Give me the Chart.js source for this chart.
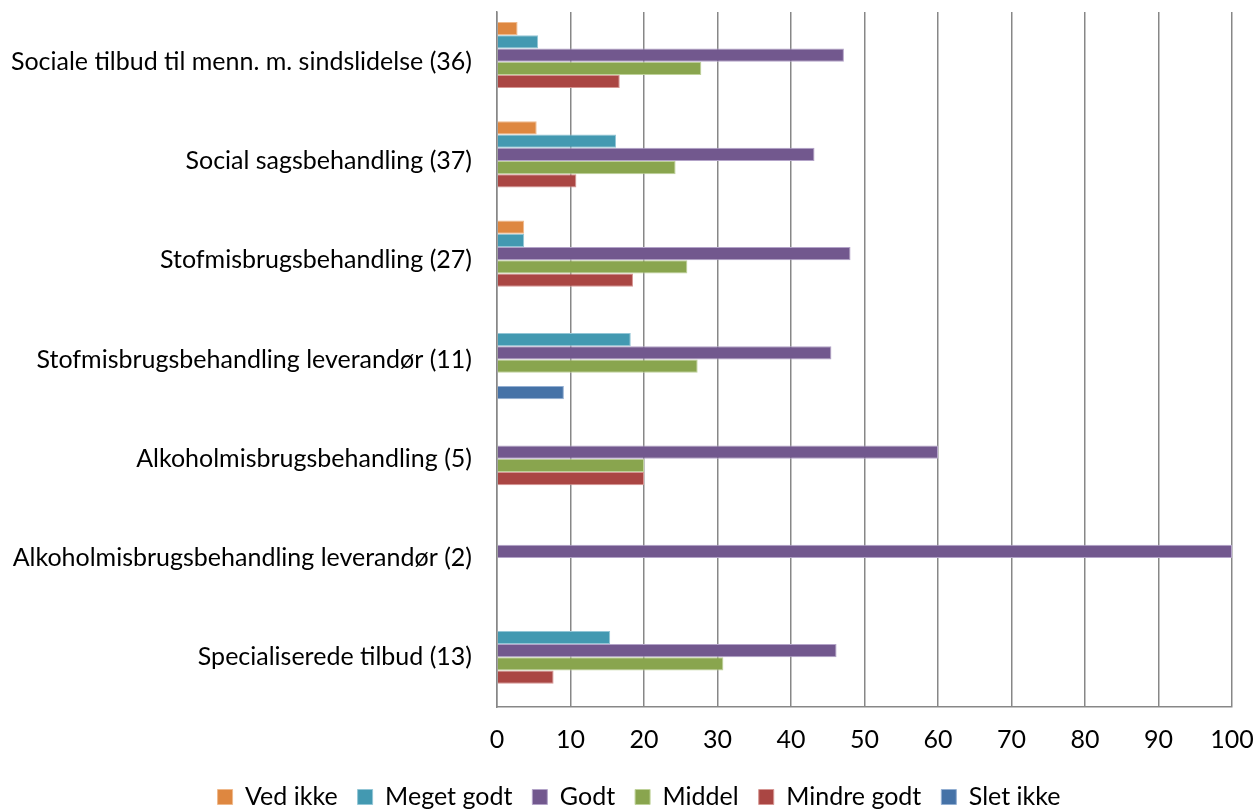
<!DOCTYPE html>
<html>
<head>
<meta charset="utf-8">
<title>Vurdering af tilbud</title>
<script src="https://cdn.jsdelivr.net/npm/chart.js@4.4.1/dist/chart.umd.min.js"></script>
<style>
  html, body { margin: 0; padding: 0; background: #ffffff; }
  #wrap { width: 1255px; height: 809px; }
</style>
</head>
<body>
<div id="wrap"><canvas id="chart" width="1255" height="809"></canvas></div>
<script>
// Tilbud (antal svar i parentes)
const categories = [
  'Sociale tilbud til menn. m. sindslidelse (36)',
  'Social sagsbehandling (37)',
  'Stofmisbrugsbehandling (27)',
  'Stofmisbrugsbehandling leverandør (11)',
  'Alkoholmisbrugsbehandling (5)',
  'Alkoholmisbrugsbehandling leverandør (2)',
  'Specialiserede tilbud (13)'
];

// Andel af svar i procent for hver vurdering
const vedIkke    = [2.8, 5.4, 3.7, 0, 0, 0, 0];
const megetGodt  = [5.6, 16.2, 3.7, 18.2, 0, 0, 15.4];
const godt       = [47.2, 43.2, 48.1, 45.5, 60, 100, 46.2];
const middel     = [27.8, 24.3, 25.9, 27.3, 20, 0, 30.8];
const mindreGodt = [16.7, 10.8, 18.5, 0, 20, 0, 7.7];
const sletIkke   = [0, 0, 0, 9.1, 0, 0, 0];

const seriesNames = ['Ved ikke', 'Meget godt', 'Godt', 'Middel', 'Mindre godt', 'Slet ikke'];
const xTicks = [0, 10, 20, 30, 40, 50, 60, 70, 80, 90, 100];

const fills   = ['#DE8740', '#4399B1', '#72588E', '#89A54E', '#AA4643', '#4572A7'];
const borders = ['#EFB98C', '#93C6D6', '#B3A3C8', '#BFD29A', '#D69693', '#93AFD2'];

const FONT = '"Lato", "Liberation Sans", sans-serif';
const FONT_SIZE = 25;
const GRID = '#878787';

// Plot rectangle edges and legend row position
const PLOT_LEFT = 497;
const PLOT_BOTTOM = 707;
const LEGEND_CENTER_Y = 797;
const LEGEND_SHIFT_X = 23;
const LEGEND_PAD = 20;

const seriesValues = [vedIkke, megetGodt, godt, middel, mindreGodt, sletIkke];

const datasets = seriesNames.map((name, i) => ({
  label: name,
  data: seriesValues[i],
  backgroundColor: fills[i],
  borderColor: borders[i],
  borderWidth: 1,
  borderSkipped: 'start',
  categoryPercentage: 0.8,
  barPercentage: 1.0
}));

// Moves the legend row to its place below the axis labels
const legendPlacer = {
  id: 'legendPlacer',
  afterLayout(chart) {
    const lg = chart.legend;
    if (!lg) return;
    const dy = LEGEND_CENTER_Y - (lg.top + LEGEND_PAD + FONT_SIZE / 2);
    lg.top += dy; lg.bottom += dy;
    lg.left += LEGEND_SHIFT_X; lg.right += LEGEND_SHIFT_X;
  }
};

new Chart(document.getElementById('chart'), {
  type: 'bar',
  data: { labels: categories, datasets },
  plugins: [legendPlacer],
  options: {
    indexAxis: 'y',
    responsive: false,
    animation: false,
    events: [],
    layout: { padding: { top: 12, right: 23, bottom: 0, left: 0 } },
    scales: {
      x: {
        min: 0,
        max: 100,
        afterBuildTicks: (scale) => { scale.ticks = xTicks.map(v => ({ value: v })); },
        afterFit: (scale) => {
          const lgH = scale.chart.legend ? scale.chart.legend.height : 0;
          scale.height = Math.max(0, 809 - PLOT_BOTTOM - lgH);
          scale.paddingLeft = 0; scale.paddingRight = 0;
        },
        grid: {
          color: GRID,
          lineWidth: 1.5,
          drawTicks: false
        },
        border: { display: true, color: GRID, width: 1.5 },
        ticks: {
          padding: 18,
          color: '#000000',
          font: { family: FONT, size: FONT_SIZE }
        }
      },
      y: {
        afterFit: (scale) => {
          scale.width = PLOT_LEFT;
          scale.paddingTop = 0; scale.paddingBottom = 0;
        },
        grid: { display: false, drawTicks: false },
        border: { display: true, color: GRID, width: 1.5 },
        ticks: {
          padding: 25,
          color: '#000000',
          font: { family: FONT, size: FONT_SIZE }
        }
      }
    },
    plugins: {
      tooltip: { enabled: false },
      legend: {
        position: 'bottom',
        labels: {
          boxWidth: 15,
          boxHeight: 15,
          padding: LEGEND_PAD,
          color: '#000000',
          font: { family: FONT, size: FONT_SIZE }
        }
      }
    }
  }
});
</script>
</body>
</html>
